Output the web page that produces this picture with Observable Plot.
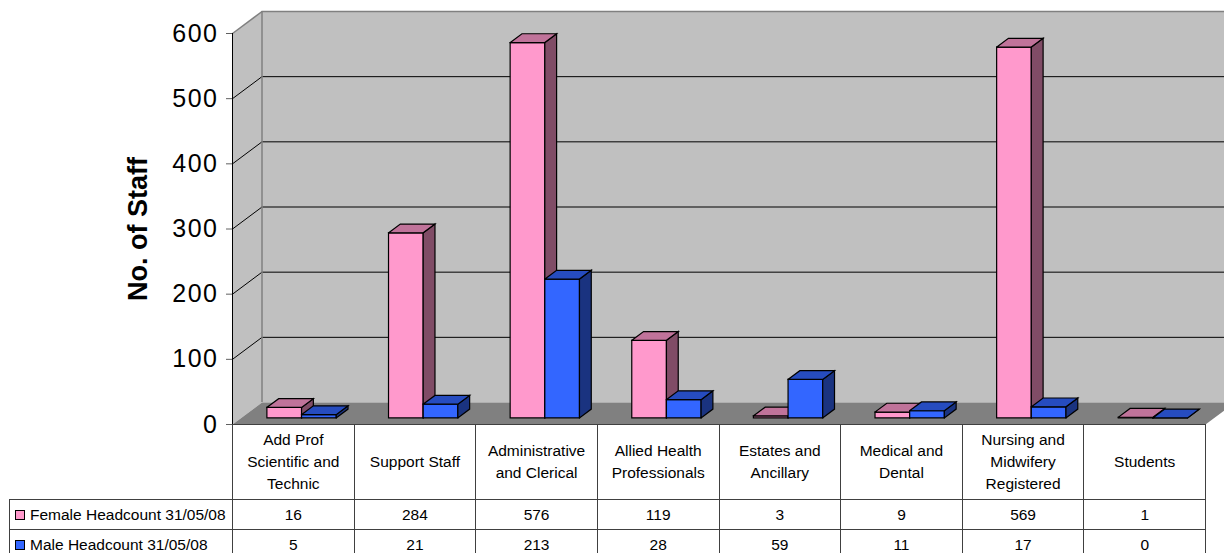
<!DOCTYPE html>
<html>
<head>
<meta charset="utf-8">
<script src="https://cdn.jsdelivr.net/npm/d3@7"></script>
<script src="https://cdn.jsdelivr.net/npm/@observablehq/plot@0.6"></script>
<style>
  body { margin: 0; background: #fff; }
  #chart { position: relative; width: 1224px; height: 553px; overflow: hidden; font-family: "Liberation Sans", Arial, sans-serif; }
  #chart svg { position: absolute; left: 0; top: 0; }
  #chart g[aria-label="y-axis tick label"] text { letter-spacing: 1.5px; }
  table.data {
    position: absolute; left: 9px; top: 424px;
    border-collapse: collapse; table-layout: fixed; width: 1196px;
    font: 15.5px "Liberation Sans", Arial, sans-serif; color: #000;
  }
  table.data td { border: 1px solid #404040; text-align: center; padding: 0; line-height: 22px; overflow: hidden; }
  table.data tr.head td { height: 74px; }
  table.data tr.row td { height: 29px; }
  table.data td.blank { border-top: none; border-left: none; }
  table.data td.legend { text-align: left; padding-left: 5px; white-space: nowrap; }
  table.data .sw { display: inline-block; width: 8px; height: 8px; border: 1px solid #000; margin-right: 5px; vertical-align: 0px; }
</style>
</head>
<body>
<div id="chart"></div>
<script>
// Staff headcount by staff group, 31/05/08
const categories = [
  "Add Prof\nScientific and\nTechnic",
  "Support Staff",
  "Administrative\nand Clerical",
  "Allied Health\nProfessionals",
  "Estates and\nAncillary",
  "Medical and\nDental",
  "Nursing and\nMidwifery\nRegistered",
  "Students"
];
const female = [16, 284, 576, 119, 3, 9, 569, 1];
const male = [5, 21, 213, 28, 59, 11, 17, 0];
const seriesNames = ["Female Headcount 31/05/08", "Male Headcount 31/05/08"];
const yTicks = [0, 100, 200, 300, 400, 500, 600];
const yLabel = "No. of Staff";

// face colours for the shaded 3-D columns: front, side, top
const seriesFront = ["#ff99cc", "#3366ff"];
const seriesSide = ["#804c66", "#1a3380"];
const seriesTop = ["#c0739a", "#264cbf"];

// layout
const W = 1224, H = 445;
const marginLeft = 232, marginRight = 19, marginTop = 33, marginBottom = H - 424;
const n = categories.length;
const yMax = yTicks[yTicks.length - 1];

// oblique depth of the chart box, in pixels, converted to data units
const depthPx = [29.5, 22];
const dX = depthPx[0] / ((W - marginLeft - marginRight) / n);
const dY = depthPx[1] / ((H - marginTop - marginBottom) / yMax);
const at = (x, v, d) => ({x: x + d * dX, y: v + d * dY});

let fid = 0;
function addPoly(list, pts, fill) {
  const id = fid++;
  for (const p of [...pts, pts[0]]) list.push({id, fill, x: p.x, y: p.y});
}

// walls and floor of the box
const walls = [];
addPoly(walls, [at(0, 0, 0), at(0, yMax, 0), at(0, yMax, 1), at(0, 0, 1)], "#c0c0c0");
addPoly(walls, [at(0, 0, 1), at(n, 0, 1), at(n, yMax, 1), at(0, yMax, 1)], "#c0c0c0");
addPoly(walls, [at(0, 0, 0), at(n, 0, 0), at(n, 0, 1), at(0, 0, 1)], "#808080");

// column faces, drawn left to right so nearer faces cover farther ones
const slots = [[0.21, 0.495], [0.495, 0.78]];
const dFront = 0.3, dBack = 0.7;
const faces = [];
categories.forEach((c, i) => {
  [female[i], male[i]].forEach((v, s) => {
    const x0 = i + slots[s][0], x1 = i + slots[s][1];
    addPoly(faces, [at(x0, 0, dFront), at(x1, 0, dFront), at(x1, v, dFront), at(x0, v, dFront)], seriesFront[s]);
    addPoly(faces, [at(x1, 0, dFront), at(x1, 0, dBack), at(x1, v, dBack), at(x1, v, dFront)], seriesSide[s]);
    addPoly(faces, [at(x0, v, dFront), at(x1, v, dFront), at(x1, v, dBack), at(x0, v, dBack)], seriesTop[s]);
  });
});

const inner = yTicks.filter(v => v > 0 && v < yMax);

const chart = Plot.plot({
  width: W, height: H,
  marginLeft, marginRight, marginTop, marginBottom,
  x: {type: "linear", domain: [0, n], axis: null},
  y: {domain: [0, yMax], axis: null},
  color: {type: "identity"},
  style: {fontFamily: "Liberation Sans, Arial, sans-serif", background: "transparent", color: "#000"},
  marks: [
    Plot.line(walls, {x: "x", y: "y", z: "id", fill: "fill", stroke: "none"}),
    // gridlines on the back wall and the left wall
    Plot.ruleY(inner, {y: v => v + dY, x1: dX, x2: n + dX, stroke: "#000", strokeWidth: 1}),
    Plot.link(inner, {x1: 0, y1: v => v, x2: dX, y2: v => v + dY, stroke: "#000", strokeWidth: 1}),
    // box edges
    Plot.link([yMax], {x1: 0, y1: v => v, x2: dX, y2: v => v + dY, stroke: "#808080", strokeWidth: 1.5}),
    Plot.ruleY([yMax], {y: v => v + dY, x1: dX, x2: n + dX, stroke: "#808080", strokeWidth: 1.5}),
    Plot.ruleX([dX], {y1: dY, y2: yMax + dY, stroke: "#808080", strokeWidth: 1.5}),
    // columns
    Plot.line(faces, {x: "x", y: "y", z: "id", fill: "fill", stroke: "#000", strokeWidth: 1.2,
      strokeLinejoin: "miter", strokeMiterlimit: 10, strokeLinecap: "square"}),
    // value axis
    Plot.ruleX([0], {y1: 0, y2: yMax, stroke: "#000", strokeWidth: 1}),
    Plot.axisY(yTicks, {anchor: "left", label: null, tickSize: 6, tickPadding: 8, fontSize: 25, stroke: "#606060"}),
    Plot.text([yLabel], {frameAnchor: "left", textAnchor: "middle", dx: -94, rotate: -90,
      fontSize: 27, fontWeight: "bold", fill: "#000"})
  ]
});

const root = document.getElementById("chart");
root.appendChild(chart);

// data table below the chart: category labels, then one row per series
const table = document.createElement("table");
table.className = "data";
const colgroup = document.createElement("colgroup");
colgroup.innerHTML = `<col style="width:223px">` + categories.map(() => `<col style="width:121.625px">`).join("");
table.appendChild(colgroup);

const head = document.createElement("tr");
head.className = "head";
head.innerHTML = `<td class="blank"></td>` +
  categories.map(c => `<td>${c.split("\n").join("<br>")}</td>`).join("");
table.appendChild(head);

[female, male].forEach((values, s) => {
  const tr = document.createElement("tr");
  tr.className = "row";
  tr.innerHTML = `<td class="legend"><span class="sw" style="background:${seriesFront[s]}"></span>${seriesNames[s]}</td>` +
    values.map(v => `<td>${v}</td>`).join("");
  table.appendChild(tr);
});
root.appendChild(table);
</script>
</body>
</html>
